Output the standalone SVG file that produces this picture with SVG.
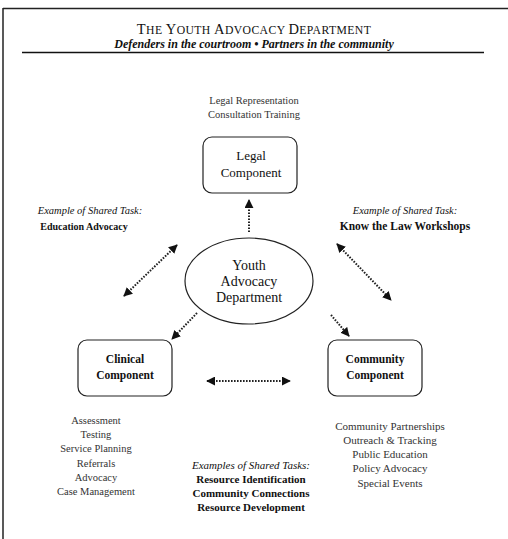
<svg xmlns="http://www.w3.org/2000/svg" width="508" height="539" viewBox="0 0 508 539">
<style>
text{font-family:"Liberation Serif","DejaVu Serif",serif;fill:#111;text-anchor:middle}
.t{font-size:13px}
.b{font-size:11px;font-weight:bold}
.i{font-size:11px;font-style:italic;font-weight:bold}
.l{font-size:10.5px;fill:#333}
.box{fill:#fff;stroke:#222;stroke-width:1.2}
.c{stroke:#222;stroke-width:2;stroke-dasharray:1.6 1.4;fill:none}
</style>
<defs>
<marker id="ah" viewBox="0 0 10 10" refX="9" refY="5" markerWidth="9" markerHeight="9" markerUnits="userSpaceOnUse" orient="auto-start-reverse">
<path d="M0,0 L10,5 L0,10 z" fill="#111"/>
</marker>
</defs>
<rect width="508" height="539" fill="#fff"/>
<g id="frame">
<line x1="3" y1="8.5" x2="508" y2="8.5" stroke="#222" stroke-width="1.5"/>
<line x1="3" y1="8" x2="3" y2="539" stroke="#222" stroke-width="1.5"/>
</g>
<g id="header">
<text x="254" y="33.5" style="font-size:14.5px;letter-spacing:0.4px"><tspan>T</tspan><tspan style="font-size:11.7px">HE </tspan><tspan>Y</tspan><tspan style="font-size:11.7px">OUTH </tspan><tspan>A</tspan><tspan style="font-size:11.7px">DVOCACY </tspan><tspan>D</tspan><tspan style="font-size:11.7px">EPARTMENT</tspan></text>
<text x="254" y="48" class="i" style="font-size:12px">Defenders in the courtroom • Partners in the community</text>
<line x1="22" y1="52.5" x2="484" y2="52.5" stroke="#111" stroke-width="1.5"/>
</g>
<g id="legal-tasks">
<text x="254" y="104" class="l">Legal Representation</text>
<text x="254" y="118" class="l">Consultation Training</text>
</g>
<g id="legal">
<rect class="box" x="203" y="137" width="94" height="56" rx="9"/>
<text x="251" y="160" class="t">Legal</text>
<text x="251" y="177" class="t">Component</text>
</g>
<g id="youth">
<ellipse class="box" cx="249" cy="281" rx="64" ry="43"/>
<text x="249" y="270" class="t" style="font-size:14px">Youth</text>
<text x="249" y="286" class="t" style="font-size:14px">Advocacy</text>
<text x="249" y="302" class="t" style="font-size:14px">Department</text>
</g>
<g id="shared-left">
<text x="90" y="214" class="i" style="font-weight:normal;font-size:10.5px">Example of Shared Task:</text>
<text x="84" y="230" class="b" style="font-size:10px">Education Advocacy</text>
</g>
<g id="shared-right">
<text x="405" y="214" class="i" style="font-weight:normal;font-size:10.5px">Example of Shared Task:</text>
<text x="405" y="230" class="b" style="font-size:11.5px">Know the Law Workshops</text>
</g>
<g id="clinical">
<rect class="box" x="78" y="340" width="94" height="56" rx="9"/>
<text x="125" y="363" class="b" style="font-size:11.5px">Clinical</text>
<text x="125" y="379" class="b" style="font-size:11.5px">Component</text>
</g>
<g id="community">
<rect class="box" x="328" y="340" width="94" height="56" rx="9"/>
<text x="375" y="363" class="b" style="font-size:11.5px">Community</text>
<text x="375" y="379" class="b" style="font-size:11.5px">Component</text>
</g>
<g id="clinical-tasks">
<text x="96" y="424" class="l">Assessment</text>
<text x="96" y="438" class="l">Testing</text>
<text x="96" y="452" class="l">Service Planning</text>
<text x="96" y="467" class="l">Referrals</text>
<text x="96" y="481" class="l">Advocacy</text>
<text x="96" y="495" class="l">Case Management</text>
</g>
<g id="community-tasks">
<text x="390" y="430" class="l" style="font-size:11px">Community Partnerships</text>
<text x="390" y="444" class="l" style="font-size:11px">Outreach &amp; Tracking</text>
<text x="390" y="458" class="l" style="font-size:11px">Public Education</text>
<text x="390" y="472" class="l" style="font-size:11px">Policy Advocacy</text>
<text x="390" y="487" class="l" style="font-size:11px">Special Events</text>
</g>
<g id="shared-bottom">
<text x="251" y="469" class="i" style="font-weight:normal">Examples of Shared Tasks:</text>
<text x="251" y="483" class="b">Resource Identification</text>
<text x="251" y="497" class="b">Community Connections</text>
<text x="251" y="511" class="b">Resource Development</text>
</g>
<g id="connectors">
<line class="c" x1="249" y1="232" x2="249" y2="200" marker-end="url(#ah)"/>
<line class="c" x1="177" y1="245" x2="124" y2="296" marker-start="url(#ah)" marker-end="url(#ah)"/>
<line class="c" x1="337" y1="244" x2="391" y2="300" marker-start="url(#ah)" marker-end="url(#ah)"/>
<line class="c" x1="197" y1="313" x2="172" y2="339" marker-end="url(#ah)"/>
<line class="c" x1="331" y1="315" x2="349" y2="336" marker-end="url(#ah)"/>
<line class="c" x1="207" y1="381" x2="290" y2="381" marker-start="url(#ah)" marker-end="url(#ah)"/>
</g>
</svg>
